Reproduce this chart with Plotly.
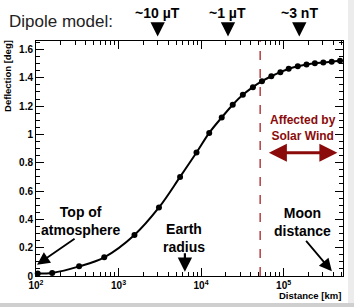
import numpy as np
import plotly.graph_objects as go

# ---- data ----
distance_km = [105, 157, 333, 671, 1560, 3090, 5570, 8810, 12560, 17800, 24200,
               32100, 42500, 54700, 71000, 91400, 115400, 148600, 189700, 239400,
               303000, 383000, 483000]
deflection_deg = [0.017, 0.022, 0.068, 0.132, 0.29, 0.484, 0.70, 0.872, 1.011, 1.12,
                  1.21, 1.28, 1.334, 1.376, 1.411, 1.44, 1.464, 1.482, 1.494, 1.503,
                  1.508, 1.513, 1.52]
x_tickvals = [100, 1000, 10000, 100000]
x_ticktext = ["10<sup>2</sup>", "10<sup>3</sup>", "10<sup>4</sup>", "10<sup>5</sup>"]
field_labels = ["~10 µT", "~1 µT", "~3 nT"]
field_positions_km = [2980, 21200, 155000]
solar_wind_km = 52000
atmosphere_km = 103
earth_radius_km = 6371
moon_distance_km = 384400

FONT = "Liberation Sans, Arial, Helvetica, sans-serif"
DARKRED = "#8B0B0B"

fig = go.Figure()
fig.add_trace(go.Scatter(
    x=distance_km, y=deflection_deg, mode="lines+markers",
    line=dict(color="black", width=2, shape="spline", smoothing=1.0),
    marker=dict(color="black", size=6),
    showlegend=False, cliponaxis=False,
))

fig.add_shape(type="line", xref="x", yref="paper",
              x0=solar_wind_km, x1=solar_wind_km, y0=0, y1=1,
              line=dict(color="#A01010", width=1.2, dash="dash"))

# light grey screenshot edges
fig.add_shape(type="rect", xref="paper", yref="paper", x0=-0.2, x1=1.1,
              y0=-0.15, y1=-0.1149, line=dict(width=0), fillcolor="#cfcfcf")
fig.add_shape(type="rect", xref="paper", yref="paper", x0=1.0163, x1=1.1,
              y0=-0.1149, y1=1.2, line=dict(width=0), fillcolor="#ececec")

ann = []
# top field-strength arrows
for lab, pos in zip(field_labels, field_positions_km):
    ann.append(dict(x=np.log10(pos), y=1.019, xref="x", yref="paper", text="",
                    showarrow=True, ax=0, ay=-14, arrowhead=2, arrowsize=1.3,
                    arrowwidth=2.2, arrowcolor="black"))
    ann.append(dict(x=np.log10(pos), y=1.121, xref="x", yref="paper", text="<b>%s</b>" % lab,
                    xanchor="center", yanchor="middle",
                    showarrow=False, font=dict(family=FONT, size=14, color="black")))

ann.append(dict(x=-0.094, y=1.085, xref="paper", yref="paper", text="Dipole model:",
                xanchor="left", yanchor="middle", showarrow=False,
                font=dict(family=FONT, size=17, color="#222222")))

# in-plot labels
ann.append(dict(x=np.log10(atmosphere_km), y=0.08, xref="x", yref="y", text="",
                showarrow=True, ax=39, ay=-27, arrowhead=2, arrowsize=1.4,
                arrowwidth=1.8, arrowcolor="black"))
ann.append(dict(x=2.55, y=0.39, xref="x", yref="y", text="<b>Top of<br>atmosphere</b>",
                xanchor="center", yanchor="middle",
                showarrow=False, font=dict(family=FONT, size=14, color="black")))

ann.append(dict(x=np.log10(earth_radius_km), y=0.03, xref="x", yref="y", text="",
                showarrow=True, ax=0, ay=-20, arrowhead=2, arrowsize=1.3,
                arrowwidth=2.2, arrowcolor="black"))
ann.append(dict(x=3.795, y=0.265, xref="x", yref="y", text="<b>Earth<br>radius</b>",
                xanchor="center", yanchor="middle",
                showarrow=False, font=dict(family=FONT, size=14, color="black")))

ann.append(dict(x=np.log10(moon_distance_km), y=0.033, xref="x", yref="y", text="",
                showarrow=True, ax=-27, ay=-32, arrowhead=2, arrowsize=1.4,
                arrowwidth=1.8, arrowcolor="black"))
ann.append(dict(x=5.23, y=0.385, xref="x", yref="y", text="<b>Moon<br>distance</b>",
                xanchor="center", yanchor="middle",
                showarrow=False, font=dict(family=FONT, size=14, color="black")))

ann.append(dict(x=5.652, y=0.87, xref="x", yref="y", text="",
                showarrow=True, ax=-70, ay=0, arrowhead=2, arrowside="end+start",
                arrowsize=1.2, arrowwidth=3, arrowcolor=DARKRED))
ann.append(dict(x=5.23, y=1.045, xref="x", yref="y", text="<b>Affected by<br>Solar Wind</b>",
                xanchor="center", yanchor="middle",
                showarrow=False, font=dict(family=FONT, size=12, color=DARKRED)))

# axis titles
ann.append(dict(x=-0.093, y=1.015, xref="paper", yref="paper", text="<b>Deflection [deg]</b>",
                textangle=-90, xanchor="center", yanchor="top", showarrow=False,
                font=dict(family=FONT, size=9.5, color="black")))
ann.append(dict(x=1.0, y=-0.083, xref="paper", yref="paper", text="<b>Distance [km]</b>",
                xanchor="right", yanchor="middle", showarrow=False,
                font=dict(family=FONT, size=9.5, color="black")))

fig.update_layout(
    width=354, height=307,
    margin=dict(l=36, r=11, t=41, b=31),
    paper_bgcolor="white", plot_bgcolor="white",
    annotations=ann,
    font=dict(family=FONT, size=10, color="black"),
)
fig.update_xaxes(
    type="log", range=[2.0, 5.72],
    tickvals=x_tickvals, ticktext=x_ticktext,
    ticks="inside", ticklen=8, tickwidth=1, tickcolor="black",
    minor=dict(ticks="inside", ticklen=4, tickcolor="black", dtick="D1", showgrid=False),
    showline=True, linecolor="black", linewidth=1, mirror="allticks",
    showgrid=False, zeroline=False,
    tickfont=dict(family=FONT, size=10, color="black", weight="bold"),
)
fig.update_yaxes(
    range=[0, 1.66], dtick=0.2, tick0=0,
    ticks="inside", ticklen=8, tickwidth=1, tickcolor="black",
    minor=dict(ticks="inside", ticklen=4, tickcolor="black", dtick=0.05, showgrid=False),
    showline=True, linecolor="black", linewidth=1, mirror="allticks",
    showgrid=False, zeroline=False,
    tickfont=dict(family=FONT, size=10, color="black", weight="bold"),
)

fig.write_html("out.html", config={"displayModeBar": False},
               post_script="document.body.style.margin='0';document.body.style.overflow='hidden';")
